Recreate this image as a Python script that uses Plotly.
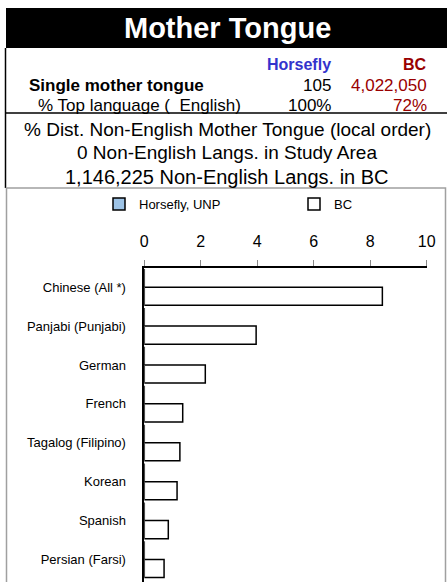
import plotly.graph_objects as go

# mother tongue header values
title = "Mother Tongue"
area_name = "Horsefly"
prov_name = "BC"
single_mt = ["105", "4,022,050"]
top_lang = ["100%", "72%"]
top_lang_name = "English"
info_lines = [
    "% Dist. Non-English Mother Tongue (local order)",
    "0 Non-English Langs. in Study Area",
    "1,146,225 Non-English Langs. in BC",
]

# % distribution of non-English mother tongues
languages = ["Chinese (All *)", "Panjabi (Punjabi)", "German", "French",
             "Tagalog (Filipino)", "Korean", "Spanish", "Persian (Farsi)"]
horsefly_pct = [0, 0, 0, 0, 0, 0, 0, 0]
bc_pct = [8.43, 3.96, 2.16, 1.36, 1.26, 1.16, 0.85, 0.70]

W, H = 447, 582
FONT = "Arial, Liberation Sans, sans-serif"
BLUE = "#3333CC"
RED = "#990000"


def px(x):
    return x / W


def py(y):
    return 1 - y / H


fig = go.Figure()
fig.add_trace(go.Bar(
    y=languages, x=horsefly_pct, orientation="h", name="Horsefly, UNP",
    marker=dict(color="#9DC3E6", line=dict(color="black", width=1.5)),
    legend="legend", showlegend=True,
))
fig.add_trace(go.Bar(
    y=languages, x=bc_pct, orientation="h", name="BC",
    marker=dict(color="white", line=dict(color="black", width=1.5)),
    legend="legend2", showlegend=True,
))

shapes = [
    # title band
    dict(type="rect", xref="paper", yref="paper", x0=px(6), x1=px(447),
         y0=py(48), y1=py(8), fillcolor="black", line=dict(width=0)),
    dict(type="line", xref="paper", yref="paper", x0=px(5.5), x1=px(5.5),
         y0=py(188), y1=py(48), line=dict(color="black", width=1.5)),
    dict(type="line", xref="paper", yref="paper", x0=px(5), x1=px(447),
         y0=py(113), y1=py(113), line=dict(color="black", width=1.5)),
    # chart area border
    dict(type="rect", xref="paper", yref="paper", x0=px(6.5), x1=px(445.5),
         y0=py(590), y1=py(188), line=dict(color="#A0A0A0", width=1.5)),
]

ann = []


def txt(x, y, s, size, color="black", anchor="center", bold=False):
    if bold:
        s = "<b>" + s + "</b>"
    ann.append(dict(x=px(x), y=py(y), xref="paper", yref="paper", text=s,
                    showarrow=False, xanchor=anchor, yanchor="middle",
                    font=dict(family=FONT, size=size, color=color)))


txt(227, 28, title, 29, color="white", bold=True)
txt(333, 64, area_name, 16, color=BLUE, anchor="right", bold=True)
txt(429, 64, prov_name, 16, color=RED, anchor="right", bold=True)
txt(27, 85, "Single mother tongue", 17, anchor="left", bold=True)
txt(333, 85, single_mt[0], 17, anchor="right")
txt(429, 85, single_mt[1], 17, color=RED, anchor="right")
txt(36, 105, "% Top language (  " + top_lang_name + ")", 17, anchor="left")
txt(333, 105, top_lang[0], 17, anchor="right")
txt(429, 105, top_lang[1], 17, color=RED, anchor="right")
for i, (line, size) in enumerate(zip(info_lines, [19, 19, 20])):
    txt(227, 129 + i * 24, line, size)

leg = dict(orientation="h", xanchor="left", yanchor="top",
           font=dict(size=13), bgcolor="rgba(0,0,0,0)")

fig.update_layout(
    template="none",
    width=W, height=H, autosize=False,
    margin=dict(l=0, r=0, t=0, b=0, pad=0, autoexpand=False),
    paper_bgcolor="white", plot_bgcolor="white",
    font=dict(family=FONT, color="black"),
    barmode="group", bargap=0.07, bargroupgap=0,
    shapes=shapes, annotations=ann,
    showlegend=True,
    legend=dict(leg, x=px(99), y=py(189)),
    legend2=dict(leg, x=px(294), y=py(189)),
    xaxis=dict(domain=[px(144.3), px(426.7)], side="top", range=[0, 10],
               dtick=2, showgrid=False, zeroline=False, showline=True,
               linecolor="black", linewidth=1.5, ticks="outside", ticklen=6,
               tickcolor="#888888", tickfont=dict(size=16), anchor="y",
               ticklabelstandoff=7, automargin=False),
    yaxis=dict(domain=[0, py(267.7)], autorange=False,
               range=[7.58, -0.5], type="category", showgrid=False,
               zeroline=False, showline=True, linecolor="black",
               linewidth=1.5, ticks="", tickfont=dict(size=13),
               ticklabelstandoff=14, automargin=False),
)

fig.write_html("out.html",
               config={"displayModeBar": False, "responsive": False},
               post_script="document.body.style.margin='0px';"
                           "document.body.style.overflow='hidden';")
